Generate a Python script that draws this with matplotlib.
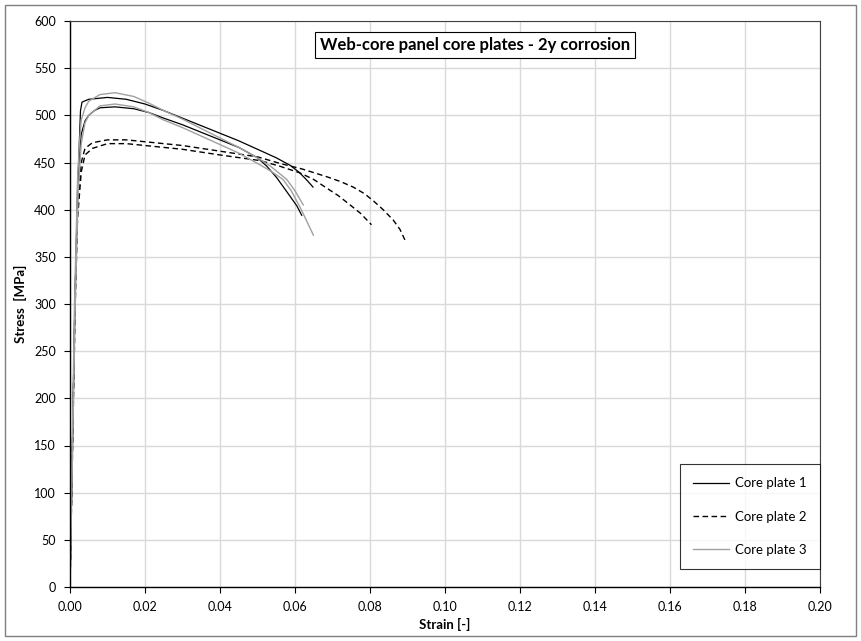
import matplotlib

matplotlib.use("Agg")
import matplotlib.pyplot as plt
from matplotlib.patches import Rectangle

plt.rcParams["font.family"] = ["Lato", "DejaVu Sans"]

# Core plate 1 (solid black) - two specimens
p1a_strain = [0.0, 0.0013, 0.0022, 0.0028, 0.0032, 0.005, 0.01, 0.015, 0.02, 0.025, 0.03, 0.035, 0.04, 0.045,
              0.05, 0.055, 0.0587, 0.061, 0.063, 0.0648]
p1a_stress = [0, 300, 440, 505, 514, 517, 519, 517, 512, 505, 497, 489, 481, 473, 464, 455, 447, 440, 432, 424]
p1b_strain = [0.0, 0.0013, 0.002, 0.0025, 0.003, 0.004, 0.005, 0.0065, 0.008, 0.012, 0.017, 0.021, 0.025, 0.03,
              0.035, 0.04, 0.045, 0.05, 0.0525, 0.0551, 0.058, 0.0605, 0.0618]
p1b_stress = [0, 300, 420, 458, 480, 494, 500, 505, 508, 509, 507, 503, 497, 490, 482, 474, 466, 455, 446, 434,
              418, 404, 394]

# Core plate 2 (dashed black)
p2a_strain = [0.0, 0.0013, 0.002, 0.003, 0.004, 0.006, 0.01, 0.015, 0.02, 0.03, 0.04, 0.05, 0.056, 0.062, 0.0684,
              0.072, 0.0755, 0.0785, 0.081, 0.0835, 0.0862, 0.088, 0.0893]
p2a_stress = [0, 300, 400, 450, 465, 471, 474, 474, 472, 468, 462, 456, 449, 443, 435, 430, 424, 417, 409, 400,
              389, 379, 368]
p2b_strain = [0.0, 0.0014, 0.002, 0.003, 0.004, 0.006, 0.01, 0.015, 0.02, 0.03, 0.04, 0.0507, 0.056, 0.0613,
              0.065, 0.0684, 0.0715, 0.0747, 0.0775, 0.0804]
p2b_stress = [0, 300, 390, 440, 458, 465, 470, 470, 468, 464, 458, 452, 446, 439, 432, 423, 415, 405, 396, 384]

# Core plate 3 (solid grey)
p3a_strain = [0.0, 0.0012, 0.002, 0.0025, 0.003, 0.004, 0.005, 0.008, 0.012, 0.017, 0.021, 0.025, 0.03, 0.035,
              0.04, 0.045, 0.05, 0.0535, 0.0578, 0.06, 0.0622]
p3a_stress = [0, 300, 430, 470, 495, 508, 515, 522, 524, 520, 513, 505, 496, 486, 476, 466, 455, 446, 432, 420, 405]
p3b_strain = [0.0, 0.0014, 0.0022, 0.003, 0.004, 0.005, 0.008, 0.012, 0.017, 0.021, 0.025, 0.03, 0.035, 0.04,
              0.045, 0.05, 0.0535, 0.0568, 0.059, 0.0613, 0.063, 0.0649]
p3b_stress = [0, 300, 420, 470, 492, 500, 510, 512, 509, 503, 495, 487, 478, 469, 460, 449, 441, 432, 420, 403,
              389, 373]

x_ticks = [0.00, 0.02, 0.04, 0.06, 0.08, 0.10, 0.12, 0.14, 0.16, 0.18, 0.20]
y_ticks = list(range(0, 601, 50))

fig = plt.figure(figsize=(8.62, 6.41), dpi=100)
ax = fig.add_axes([70 / 862, 1 - 587 / 641, 750 / 862, 566 / 641])

# outer chart border
fig.patches.append(Rectangle((5 / 862, 5 / 641), 851 / 862, 631 / 641, transform=fig.transFigure,
                             fill=False, edgecolor="#7f7f7f", lw=1.0))

ax.plot(p1a_strain, p1a_stress, color="black", lw=0.9, label="Core plate 1")
ax.plot(p1b_strain, p1b_stress, color="black", lw=0.9)
ax.plot(p2a_strain, p2a_stress, color="black", lw=1.0, dashes=(4, 2.5), label="Core plate 2")
ax.plot(p2b_strain, p2b_stress, color="black", lw=1.0, dashes=(4, 2.5))
ax.plot(p3a_strain, p3a_stress, color="#a0a0a0", lw=1.0, label="Core plate 3")
ax.plot(p3b_strain, p3b_stress, color="#a0a0a0", lw=1.0)

ax.set_xlim(0, 0.20)
ax.set_ylim(0, 600)
ax.set_xticks(x_ticks)
ax.set_xticklabels([f"{v:.2f}" for v in x_ticks])
ax.set_yticks(y_ticks)
ax.tick_params(direction="out", length=4, width=0.8, labelsize=9, colors="black", pad=6)
ax.grid(color="#d9d9d9", lw=1.0)
ax.set_axisbelow(True)
for side in ("left", "bottom"):
    ax.spines[side].set_color("black")
    ax.spines[side].set_linewidth(1.0)
for side in ("top", "right"):
    ax.spines[side].set_color("#404040")
    ax.spines[side].set_linewidth(0.8)

ax.set_xlabel("Strain [-]", fontsize=9.5, fontweight="bold", labelpad=4)
ax.set_ylabel("Stress  [MPa]", fontsize=9.5, fontweight="bold", labelpad=5)

ax.text(0.54, 0.958, "Web-core panel core plates - 2y corrosion", transform=ax.transAxes,
        ha="center", va="center", fontsize=12, fontweight="bold",
        bbox=dict(boxstyle="square,pad=0.3", facecolor="white", edgecolor="black", lw=0.8))

leg = ax.legend(loc="lower right", bbox_to_anchor=(1.0, 0.032), borderaxespad=0, fontsize=9.5,
                frameon=True, fancybox=False, edgecolor="black", labelspacing=1.6,
                handlelength=2.7, handletextpad=0.5, borderpad=1.0)
leg.get_frame().set_linewidth(0.8)

fig.savefig("out.png", dpi=100)
